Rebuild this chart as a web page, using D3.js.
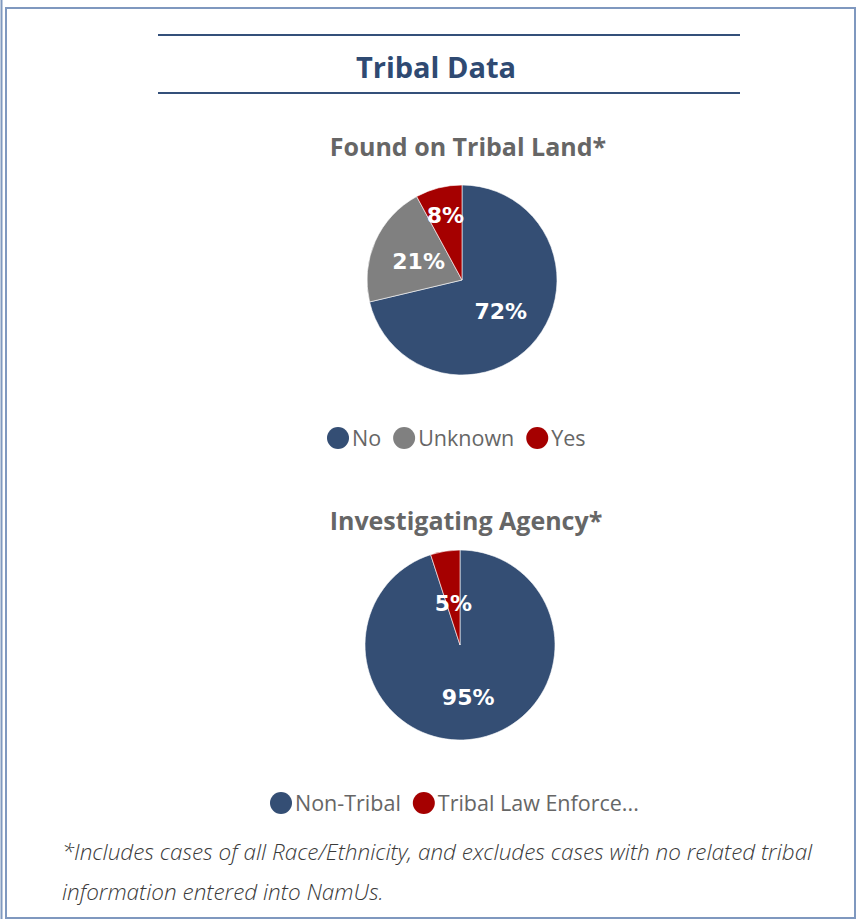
<!DOCTYPE html>
<html>
<head>
<meta charset="utf-8">
<script src="https://cdn.jsdelivr.net/npm/d3@7"></script>
<style>
  body { margin: 0; background: #fff; }
  svg { display: block; }
</style>
</head>
<body>
<div id="chart"></div>
<script>
// data
const landCategories = ["No", "Unknown", "Yes"];
const landValues = [72, 21, 8];
const agencyCategories = ["Non-Tribal", "Tribal Law Enforce..."];
const agencyLegend = ["Non-Tribal", "Tribal Law Enforce..."];
const agencyValues = [95, 5];
const footnoteLines = [
  "*Includes cases of all Race/Ethnicity, and excludes cases with no related tribal",
  "information entered into NamUs.",
];

const W = 862, H = 922;
const navy = "#344e74", grey = "#808080", red = "#a50000";

const svg = d3
  .select("#chart")
  .append("svg")
  .attr("width", W)
  .attr("height", H);

// frame
svg.append("line")
  .attr("x1", 1.5).attr("y1", 0).attr("x2", 1.5).attr("y2", 919)
  .style("stroke", "#8099bf").style("stroke-width", 2);
svg.append("rect")
  .attr("x", 6).attr("y", 8).attr("width", 849).attr("height", 910)
  .style("fill", "none").style("stroke", "#7f98bf").style("stroke-width", 2);

// header
[35, 93].forEach((yy) => {
  svg.append("line")
    .attr("x1", 158).attr("x2", 740).attr("y1", yy).attr("y2", yy)
    .style("stroke", "#34507a").style("stroke-width", 2);
});
svg.append("text")
  .attr("x", 436).attr("y", 78)
  .attr("text-anchor", "middle")
  .style("font-family", "Open Sans")
  .style("font-weight", 700)
  .style("font-size", "29px")
  .style("fill", "#2f4a72")
  .text("Tribal Data");

function pieChart(cfg) {
  const { title, titleY, cx, cy, r, categories, values, colors, labelRadius,
    legend, legendX, legendY } = cfg;

  svg.append("text")
    .attr("x", cx + 6).attr("y", titleY)
    .attr("text-anchor", "middle")
    .style("font-family", "Open Sans")
    .style("font-weight", 700)
    .style("font-size", "25px")
    .style("fill", "#666666")
    .text(title);

  const color = d3.scaleOrdinal().domain(categories).range(colors);
  const pie = d3.pie().sort(null).value((d) => d.value);
  const arcs = pie(categories.map((c, i) => ({ cat: c, value: values[i] })));
  const arc = d3.arc().innerRadius(0).outerRadius(r);

  const g = svg.append("g").attr("transform", `translate(${cx}, ${cy})`);
  g.selectAll(".slice")
    .data(arcs)
    .join("path")
    .attr("class", "slice")
    .attr("d", arc)
    .style("fill", (d) => color(d.data.cat))
    .style("stroke", "#fff")
    .style("stroke-width", 0.6);

  g.selectAll(".lbl")
    .data(arcs)
    .join("text")
    .attr("class", "lbl")
    .attr("transform", (d, i) => {
      const lr = r * labelRadius[i];
      const c = d3.arc().innerRadius(lr).outerRadius(lr).centroid(d);
      return `translate(${c[0]}, ${c[1]})`;
    })
    .attr("text-anchor", "middle")
    .attr("dy", "0.36em")
    .style("font-family", "DejaVu Sans")
    .style("font-weight", "bold")
    .style("font-size", "22px")
    .style("fill", "#fff")
    .text((d) => d.data.value + "%");

  // legend
  const lg = svg.append("g").attr("transform", `translate(${legendX}, ${legendY})`);
  let xx = 0;
  legend.forEach((name, i) => {
    lg.append("circle")
      .attr("cx", xx + 11).attr("cy", 0).attr("r", 11)
      .style("fill", color(categories[i]));
    const t = lg.append("text")
      .attr("x", xx + 25).attr("y", 0)
      .attr("dy", "0.35em")
      .style("font-family", "Open Sans")
      .style("font-size", "21.5px")
      .style("fill", "#666666")
      .text(name);
    xx += 25 + t.node().getComputedTextLength() + 12;
  });
}

pieChart({
  title: "Found on Tribal Land*",
  titleY: 156,
  cx: 462, cy: 280, r: 95,
  categories: landCategories,
  values: landValues,
  colors: [navy, grey, red],
  labelRadius: [0.52, 0.5, 0.71],
  legend: landCategories,
  legendX: 327, legendY: 438,
});

pieChart({
  title: "Investigating Agency*",
  titleY: 530,
  cx: 460, cy: 645, r: 95,
  categories: agencyCategories,
  values: agencyValues,
  colors: [navy, red],
  labelRadius: [0.55, 0.45],
  legend: agencyLegend,
  legendX: 270, legendY: 803,
});

// footnote
svg.selectAll(".foot")
  .data(footnoteLines)
  .join("text")
  .attr("class", "foot")
  .attr("x", 62)
  .attr("y", (d, i) => 860 + i * 40)
  .style("font-family", "Open Sans")
  .style("font-style", "italic")
  .style("font-weight", 300)
  .style("font-size", "22.5px")
  .style("fill", "#3a3a3a")
  .text((d) => d);
</script>
</body>
</html>
